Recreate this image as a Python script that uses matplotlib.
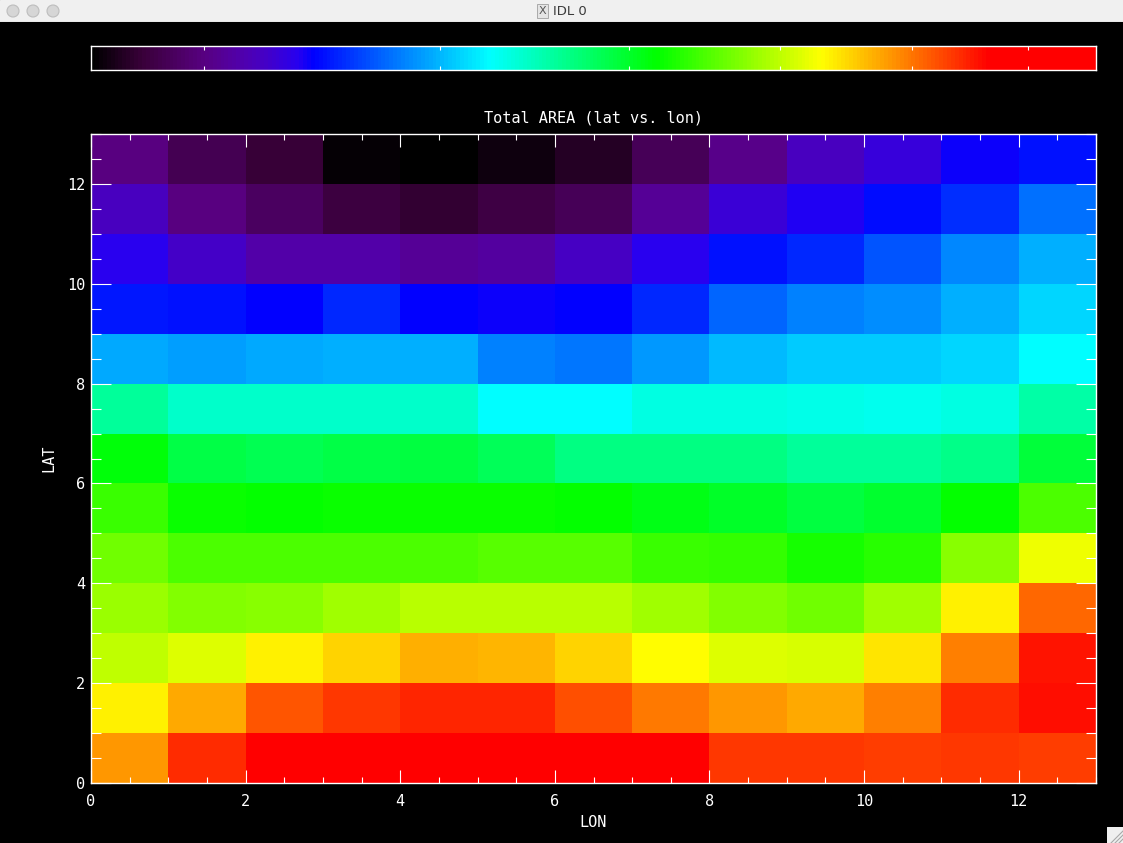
import numpy as np
import matplotlib
matplotlib.use("Agg")
import matplotlib.pyplot as plt
from matplotlib.colors import LinearSegmentedColormap
from matplotlib.patches import Circle, Rectangle
from matplotlib.ticker import MultipleLocator

# valores (linha de cima = LAT 12, linha de baixo = LAT 0)
lon_edges = np.arange(14)
lat_edges = np.arange(14)
area = [
    [0.110, 0.073, 0.050, 0.005, 0.003, 0.015, 0.035, 0.078, 0.120, 0.165, 0.190, 0.215, 0.231],
    [0.165, 0.110, 0.085, 0.055, 0.044, 0.062, 0.075, 0.130, 0.187, 0.210, 0.230, 0.250, 0.298],
    [0.205, 0.173, 0.145, 0.145, 0.130, 0.138, 0.170, 0.205, 0.234, 0.248, 0.279, 0.314, 0.342],
    [0.237, 0.231, 0.220, 0.248, 0.220, 0.218, 0.220, 0.248, 0.292, 0.309, 0.317, 0.342, 0.370],
    [0.337, 0.331, 0.337, 0.342, 0.342, 0.309, 0.303, 0.325, 0.348, 0.362, 0.362, 0.370, 0.397],
    [0.464, 0.433, 0.433, 0.433, 0.433, 0.397, 0.397, 0.417, 0.417, 0.412, 0.407, 0.417, 0.454],
    [0.558, 0.516, 0.511, 0.516, 0.521, 0.506, 0.480, 0.480, 0.480, 0.464, 0.464, 0.474, 0.527],
    [0.599, 0.568, 0.563, 0.568, 0.568, 0.568, 0.563, 0.547, 0.537, 0.521, 0.532, 0.563, 0.610],
    [0.635, 0.610, 0.610, 0.610, 0.610, 0.618, 0.618, 0.599, 0.594, 0.578, 0.589, 0.651, 0.718],
    [0.664, 0.646, 0.651, 0.667, 0.682, 0.682, 0.682, 0.667, 0.646, 0.635, 0.667, 0.738, 0.827],
    [0.687, 0.705, 0.738, 0.756, 0.780, 0.775, 0.756, 0.728, 0.705, 0.700, 0.746, 0.811, 0.882],
    [0.738, 0.785, 0.839, 0.858, 0.869, 0.869, 0.842, 0.816, 0.795, 0.785, 0.811, 0.864, 0.884],
    [0.795, 0.864, 0.930, 0.930, 0.930, 0.930, 0.930, 0.920, 0.858, 0.858, 0.853, 0.858, 0.853],
]
cbar_ticks = [0.112, 0.347, 0.535, 0.686, 0.817, 0.932]

# paleta parecida com a tabela 13 (RAINBOW) do IDL
cores = [
    (0.000, "#000000"), (0.050, "#3a003a"), (0.110, "#580080"), (0.145, "#5200a8"),
    (0.173, "#4400c8"), (0.205, "#2800f0"), (0.220, "#0000ff"), (0.397, "#00ffff"),
    (0.563, "#00ff00"), (0.728, "#ffff00"), (0.895, "#ff0000"), (1.000, "#ff0000"),
]
cmap = LinearSegmentedColormap.from_list("idl13", cores, N=256)

W, H = 1123, 843
fig = plt.figure(figsize=(W / 100, H / 100), dpi=100, facecolor="black")

def caixa(x0, y0, x1, y1):
    # converte pixels (origem em cima) para fração da figura
    return [x0 / W, 1 - y1 / H, (x1 - x0) / W, (y1 - y0) / H]

FONTE = "DejaVu Sans Mono"
fonte = dict(color="white", fontsize=11, family=FONTE)

# barra de título da janela
tb = fig.add_axes(caixa(0, 0, W, 22))
tb.set_xlim(0, W)
tb.set_ylim(22, 0)
tb.axis("off")
tb.add_patch(Rectangle((0, 0), W, 22, color="#f0f0f0"))
tb.plot([0, W], [21.5, 21.5], color="#c8c8c8", lw=1)
for cx in [13, 33, 53]:
    tb.add_patch(Circle((cx, 11), 6, facecolor="#d6d6d6", edgecolor="#bdbdbd", lw=0.8))
tb.add_patch(Rectangle((537, 4), 11, 14, facecolor="#e4e4e4", edgecolor="#a0a0a0", lw=0.6))
tb.text(542.5, 11.5, "X", ha="center", va="center", fontsize=8, color="#555555")
tb.text(553, 11.5, "IDL 0", ha="left", va="center", fontsize=9.5, color="#3a3a3a")

# barra de cores
cb = fig.add_axes(caixa(91, 46, 1096, 70))
cb.imshow(np.linspace(0, 1, 256)[None, :], cmap=cmap, aspect="auto",
          extent=[0, 1, 0, 1], interpolation="nearest")
cb.set_xticks(cbar_ticks)
cb.set_yticks([])
cb.tick_params(axis="x", direction="in", length=3, width=0.8, color="white",
               top=True, bottom=True, labelbottom=False)
for s in cb.spines.values():
    s.set_color("white")
    s.set_linewidth(1.0)

# mapa principal
ax = fig.add_axes(caixa(91, 134, 1096, 783))
ax.set_facecolor("black")
ax.pcolormesh(lon_edges, lat_edges, np.flipud(np.array(area)), cmap=cmap,
              vmin=0, vmax=1, shading="flat")
ax.set_xlim(0, 13)
ax.set_ylim(0, 13)
ax.xaxis.set_major_locator(MultipleLocator(2))
ax.xaxis.set_minor_locator(MultipleLocator(0.5))
ax.yaxis.set_major_locator(MultipleLocator(2))
ax.yaxis.set_minor_locator(MultipleLocator(0.5))
ax.tick_params(axis="x", which="major", direction="in", length=9.4, width=0.8,
               color="white", top=True, bottom=True, pad=8)
ax.tick_params(axis="x", which="minor", direction="in", length=4.3, width=0.8,
               color="white", top=True, bottom=True)
ax.tick_params(axis="y", which="major", direction="in", length=14.4, width=0.8,
               color="white", left=True, right=True, pad=4)
ax.tick_params(axis="y", which="minor", direction="in", length=7.2, width=0.8,
               color="white", left=True, right=True)
for lab in ax.get_xticklabels() + ax.get_yticklabels():
    lab.set_color("white")
    lab.set_fontsize(11)
    lab.set_family(FONTE)
for s in ax.spines.values():
    s.set_color("white")
    s.set_linewidth(1.0)

ax.set_xlabel("LON", labelpad=4, **fonte)
ax.set_ylabel("LAT", labelpad=8, **fonte)
fig.text(594 / W, 1 - 118 / H, "Total AREA (lat vs. lon)", ha="center", va="center", **fonte)

# canto de redimensionar
cn = fig.add_axes(caixa(1107, 827, 1123, 843))
cn.set_xlim(0, 16)
cn.set_ylim(16, 0)
cn.axis("off")
cn.add_patch(Rectangle((0, 0), 16, 16, color="#efefef"))
for d in [4, 8, 12]:
    cn.plot([16 - d, 16], [16, 16 - d], color="#a8a8a8", lw=0.8)

fig.savefig("out.png", dpi=100, facecolor="black")
